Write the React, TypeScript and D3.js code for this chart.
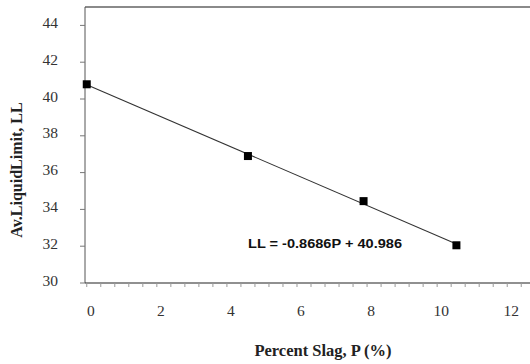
import { useEffect, useRef } from "react";
import * as d3 from "d3";

// values
const slagPercent = [0, 4.6, 7.9, 10.55];
const liquidLimit = [40.8, 36.9, 34.45, 32.05];
const xTickValues = [0, 2, 4, 6, 8, 10, 12];
const yTickValues = [30, 32, 34, 36, 38, 40, 42, 44];
const equationLabel = "LL = -0.8686P + 40.986";

const App = () => {
    const chartRef = useRef<SVGSVGElement>(null);

    useEffect(() => {
        if (!chartRef.current) return;

        d3.select(chartRef.current).selectAll("*").remove();

        const width = 530;
        const height = 364;
        const plot = { left: 85, right: 530, top: 7, bottom: 283 };

        const svg = d3.select(chartRef.current).attr("width", width).attr("height", height);

        svg.append("rect").attr("width", width).attr("height", height).attr("fill", "#fff");

        const x = d3.scaleLinear().domain([-0.05, 12.65]).range([plot.left, plot.right]);
        const y = d3.scaleLinear().domain([30, 45]).range([plot.bottom, plot.top]);

        // top border
        svg.append("line")
            .attr("x1", plot.left)
            .attr("x2", plot.right)
            .attr("y1", plot.top)
            .attr("y2", plot.top)
            .attr("stroke", "#8a8a8a")
            .attr("stroke-width", 2);

        // y axis
        svg.append("line")
            .attr("x1", plot.left)
            .attr("x2", plot.left)
            .attr("y1", plot.top)
            .attr("y2", plot.bottom)
            .attr("stroke", "#555")
            .attr("stroke-width", 1);

        svg.selectAll(".ytick")
            .data(yTickValues)
            .join("line")
            .attr("class", "ytick")
            .attr("x1", plot.left - 5)
            .attr("x2", plot.left)
            .attr("y1", (d) => y(d))
            .attr("y2", (d) => y(d))
            .attr("stroke", "#777");

        svg.selectAll(".ylabel")
            .data(yTickValues)
            .join("text")
            .attr("class", "ylabel")
            .attr("x", 58)
            .attr("y", (d) => y(d) - 3)
            .attr("text-anchor", "end")
            .attr("dominant-baseline", "central")
            .attr("font-family", "'Liberation Serif', serif")
            .attr("font-size", 15.5)
            .attr("fill", "#333")
            .text((d) => d);

        // x axis
        svg.append("line")
            .attr("x1", plot.left)
            .attr("x2", plot.right)
            .attr("y1", plot.bottom)
            .attr("y2", plot.bottom)
            .attr("stroke", "#222")
            .attr("stroke-width", 1.2);

        svg.selectAll(".xtick")
            .data(d3.range(0, 12.61, 0.4))
            .join("line")
            .attr("class", "xtick")
            .attr("x1", (d) => x(d))
            .attr("x2", (d) => x(d))
            .attr("y1", plot.bottom)
            .attr("y2", plot.bottom + 4)
            .attr("stroke", "#999");

        svg.selectAll(".xlabel")
            .data(xTickValues)
            .join("text")
            .attr("class", "xlabel")
            .attr("x", (d) => x(d) + 4)
            .attr("y", 310)
            .attr("text-anchor", "middle")
            .attr("dominant-baseline", "central")
            .attr("font-family", "'Liberation Serif', serif")
            .attr("font-size", 15.5)
            .attr("fill", "#333")
            .text((d) => d);

        // axis titles
        svg.append("text")
            .attr("transform", `translate(16,${170}) rotate(-90)`)
            .attr("text-anchor", "middle")
            .attr("dominant-baseline", "central")
            .attr("font-family", "'Liberation Serif', serif")
            .attr("font-weight", "bold")
            .attr("font-size", 16)
            .attr("fill", "#222")
            .text("Av.LiquidLimit, LL");

        svg.append("text")
            .attr("x", 323)
            .attr("y", 350)
            .attr("text-anchor", "middle")
            .attr("dominant-baseline", "central")
            .attr("font-family", "'Liberation Serif', serif")
            .attr("font-weight", "bold")
            .attr("font-size", 16.5)
            .attr("fill", "#222")
            .text("Percent Slag, P (%)");

        // least-squares trend line through the points
        const meanX = d3.mean(slagPercent)!;
        const meanY = d3.mean(liquidLimit)!;
        const sxy = d3.sum(slagPercent, (p, i) => (p - meanX) * (liquidLimit[i] - meanY));
        const sxx = d3.sum(slagPercent, (p) => (p - meanX) ** 2);
        const slope = sxy / sxx;
        const intercept = meanY - slope * meanX;
        const [xMin, xMax] = d3.extent(slagPercent) as [number, number];

        const line = d3
            .line<number>()
            .x((p) => x(p))
            .y((p) => y(slope * p + intercept));

        svg.append("path")
            .datum([xMin, xMax])
            .attr("d", line)
            .attr("fill", "none")
            .attr("stroke", "#333")
            .attr("stroke-width", 1.1);

        // markers
        const size = 8;
        svg.selectAll(".pt")
            .data(slagPercent)
            .join("rect")
            .attr("class", "pt")
            .attr("x", (p) => x(p) - size / 2)
            .attr("y", (_, i) => y(liquidLimit[i]) - size / 2)
            .attr("width", size)
            .attr("height", size)
            .attr("fill", "#000");

        // equation
        svg.append("text")
            .attr("x", 248)
            .attr("y", 243)
            .attr("dominant-baseline", "central")
            .attr("font-family", "'Liberation Sans', Arial, sans-serif")
            .attr("font-weight", "bold")
            .attr("font-size", 13)
            .attr("textLength", 154)
            .attr("lengthAdjust", "spacingAndGlyphs")
            .attr("fill", "#111")
            .text(equationLabel);
    }, []);

    return <svg ref={chartRef} style={{ position: "absolute", left: 0, top: 0, display: "block" }} />;
};

export default App;
